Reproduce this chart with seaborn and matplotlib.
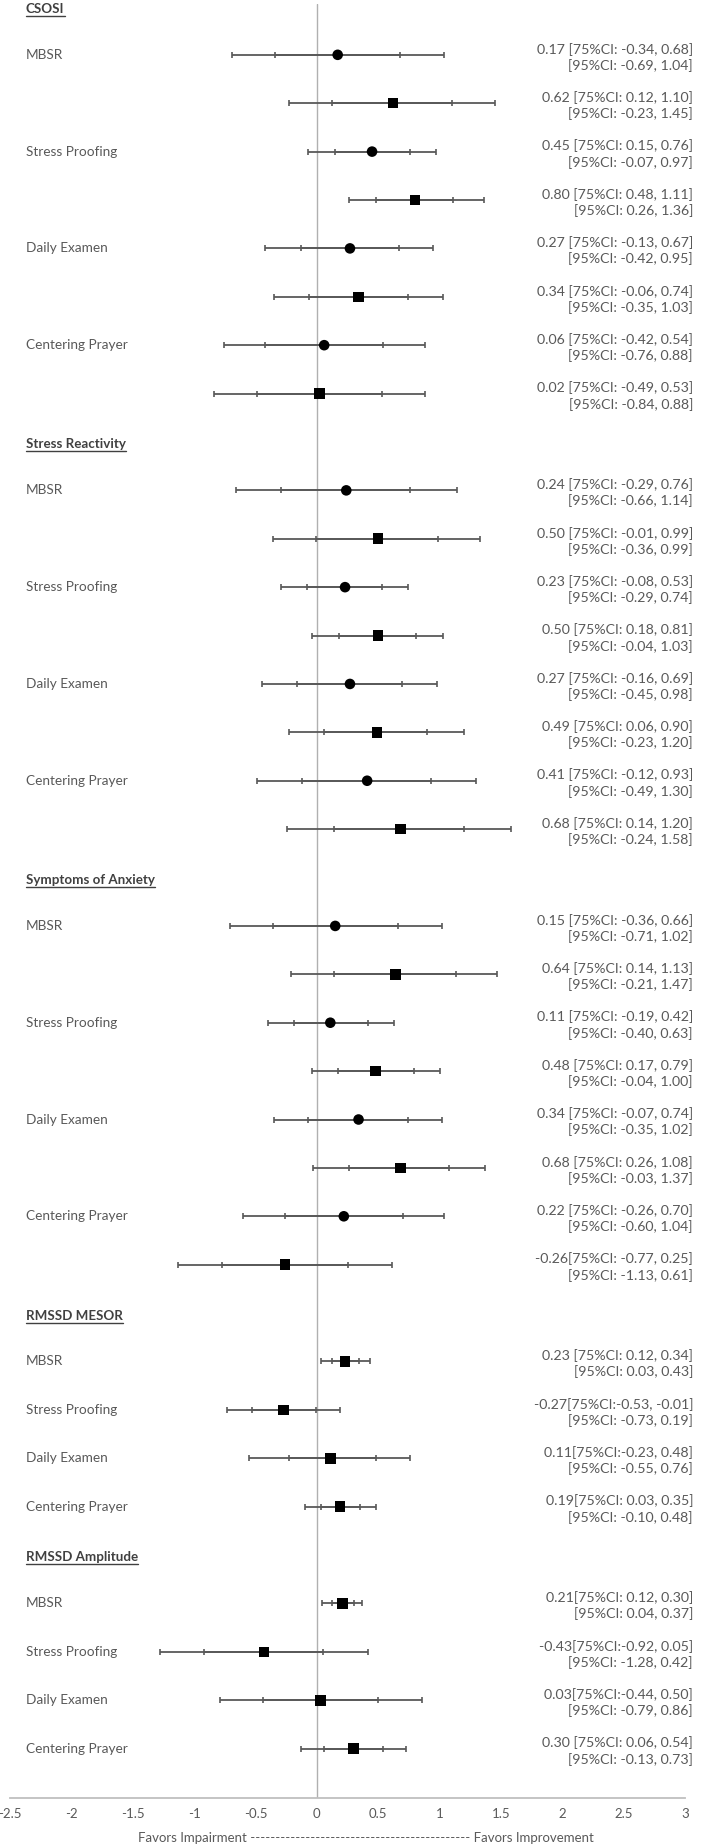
import matplotlib
matplotlib.use('Agg')
import matplotlib.pyplot as plt
import matplotlib.transforms as mtransforms
import numpy as np
import pandas as pd
import seaborn as sns

# Outcomes and arms
sections = ['CSOSI', 'Stress Reactivity', 'Symptoms of Anxiety', 'RMSSD MESOR', 'RMSSD Amplitude']
arms = ['MBSR', 'Stress Proofing', 'Daily Examen', 'Centering Prayer']
rows_per_arm = [2, 2, 2, 1, 1]  # circle + square rows for the first three outcomes

# Effect sizes with 75% and 95% CIs (top to bottom)
est = [0.17, 0.62, 0.45, 0.80, 0.27, 0.34, 0.06, 0.02,
       0.24, 0.50, 0.23, 0.50, 0.27, 0.49, 0.41, 0.68,
       0.15, 0.64, 0.11, 0.48, 0.34, 0.68, 0.22, -0.26,
       0.23, -0.27, 0.11, 0.19,
       0.21, -0.43, 0.03, 0.30]
lo75 = [-0.34, 0.12, 0.15, 0.48, -0.13, -0.06, -0.42, -0.49,
        -0.29, -0.01, -0.08, 0.18, -0.16, 0.06, -0.12, 0.14,
        -0.36, 0.14, -0.19, 0.17, -0.07, 0.26, -0.26, -0.77,
        0.12, -0.53, -0.23, 0.03,
        0.12, -0.92, -0.44, 0.06]
hi75 = [0.68, 1.10, 0.76, 1.11, 0.67, 0.74, 0.54, 0.53,
        0.76, 0.99, 0.53, 0.81, 0.69, 0.90, 0.93, 1.20,
        0.66, 1.13, 0.42, 0.79, 0.74, 1.08, 0.70, 0.25,
        0.34, -0.01, 0.48, 0.35,
        0.30, 0.05, 0.50, 0.54]
lo95 = [-0.69, -0.23, -0.07, 0.26, -0.42, -0.35, -0.76, -0.84,
        -0.66, -0.36, -0.29, -0.04, -0.45, -0.23, -0.49, -0.24,
        -0.71, -0.21, -0.40, -0.04, -0.35, -0.03, -0.60, -1.13,
        0.03, -0.73, -0.55, -0.10,
        0.04, -1.28, -0.79, -0.13]
hi95 = [1.04, 1.45, 0.97, 1.36, 0.95, 1.03, 0.88, 0.88,
        1.14, 1.33, 0.74, 1.03, 0.98, 1.20, 1.30, 1.58,
        1.02, 1.47, 0.63, 1.00, 1.02, 1.37, 1.04, 0.61,
        0.43, 0.19, 0.76, 0.48,
        0.37, 0.42, 0.86, 0.73]

label_top = ['0.17 [75%CI: -0.34, 0.68]', '0.62 [75%CI: 0.12, 1.10]', '0.45 [75%CI: 0.15, 0.76]',
             '0.80 [75%CI: 0.48, 1.11]', '0.27 [75%CI: -0.13, 0.67]', '0.34 [75%CI: -0.06, 0.74]',
             '0.06 [75%CI: -0.42, 0.54]', '0.02 [75%CI: -0.49, 0.53]',
             '0.24 [75%CI: -0.29, 0.76]', '0.50 [75%CI: -0.01, 0.99]', '0.23 [75%CI: -0.08, 0.53]',
             '0.50 [75%CI: 0.18, 0.81]', '0.27 [75%CI: -0.16, 0.69]', '0.49 [75%CI: 0.06, 0.90]',
             '0.41 [75%CI: -0.12, 0.93]', '0.68 [75%CI: 0.14, 1.20]',
             '0.15 [75%CI: -0.36, 0.66]', '0.64 [75%CI: 0.14, 1.13]', '0.11 [75%CI: -0.19, 0.42]',
             '0.48 [75%CI: 0.17, 0.79]', '0.34 [75%CI: -0.07, 0.74]', '0.68 [75%CI: 0.26, 1.08]',
             '0.22 [75%CI: -0.26, 0.70]', '-0.26[75%CI: -0.77, 0.25]',
             '0.23 [75%CI: 0.12, 0.34]', '-0.27[75%CI:-0.53, -0.01]', '0.11[75%CI:-0.23, 0.48]',
             '0.19[75%CI: 0.03, 0.35]',
             '0.21[75%CI: 0.12, 0.30]', '-0.43[75%CI:-0.92, 0.05]', '0.03[75%CI:-0.44, 0.50]',
             '0.30 [75%CI: 0.06, 0.54]']
label_bottom = ['[95%CI: -0.69, 1.04]', '[95%CI: -0.23, 1.45]', '[95%CI: -0.07, 0.97]',
                '[95%CI: 0.26, 1.36]', '[95%CI: -0.42, 0.95]', '[95%CI: -0.35, 1.03]',
                '[95%CI: -0.76, 0.88]', '[95%CI: -0.84, 0.88]',
                '[95%CI: -0.66, 1.14]', '[95%CI: -0.36, 0.99]', '[95%CI: -0.29, 0.74]',
                '[95%CI: -0.04, 1.03]', '[95%CI: -0.45, 0.98]', '[95%CI: -0.23, 1.20]',
                '[95%CI: -0.49, 1.30]', '[95%CI: -0.24, 1.58]',
                '[95%CI: -0.71, 1.02]', '[95%CI: -0.21, 1.47]', '[95%CI: -0.40, 0.63]',
                '[95%CI: -0.04, 1.00]', '[95%CI: -0.35, 1.02]', '[95%CI: -0.03, 1.37]',
                '[95%CI: -0.60, 1.04]', '[95%CI: -1.13, 0.61]',
                '[95%CI: 0.03, 0.43]', '[95%CI: -0.73, 0.19]', '[95%CI: -0.55, 0.76]',
                '[95%CI: -0.10, 0.48]',
                '[95%CI: 0.04, 0.37]', '[95%CI: -1.28, 0.42]', '[95%CI: -0.79, 0.86]',
                '[95%CI: -0.13, 0.73]']

xticks = [-2.5, -2, -1.5, -1, -0.5, 0, 0.5, 1, 1.5, 2, 2.5, 3]
xlabel = 'Favors Impairment ' + '-' * 44 + ' Favors Improvement'

# build the row table
recs = []
headers = []
pos = 0
for sec, n in zip(sections, rows_per_arm):
    headers.append((sec, pos))
    pos += 1
    for arm in arms:
        for k in range(n):
            recs.append({'section': sec, 'arm': arm if k == 0 else '',
                         'shape': 'square' if k == n - 1 else 'circle', 'row': pos})
            pos += 1
df = pd.DataFrame(recs)
df['est'] = est
df['lo75'], df['hi75'] = lo75, hi75
df['lo95'], df['hi95'] = lo95, hi95
df['top'], df['bottom'] = label_top, label_bottom

sns.set_theme(style='white')
plt.rcParams['font.family'] = ['Lato', 'DejaVu Sans']

W, H = 708, 1847
fig = plt.figure(figsize=(W / 100, H / 100), dpi=100)
ax = fig.add_axes([10 / W, 49 / H, 675 / W, 1794 / H])

grey = '#595959'
ax.axvline(0, color='#b0b0b0', lw=1, zorder=1)

for lo, hi in [('lo95', 'hi95'), ('lo75', 'hi75')]:
    ax.errorbar(df['est'], df['row'], xerr=[df['est'] - df[lo], df[hi] - df['est']],
                fmt='none', ecolor=grey, elinewidth=1.3, capsize=2.3, capthick=1.2, zorder=2)

sns.scatterplot(data=df, x='est', y='row', style='shape', markers={'circle': 'o', 'square': 's'},
                color='black', s=58, linewidth=0, legend=False, ax=ax, zorder=3)

ax.set_xlim(-2.5, 3)
ax.set_ylim(37.02, -0.05)
ax.set_xticks(xticks)
ax.set_xticklabels(['{:g}'.format(t) for t in xticks])
ax.set_yticks([])
ax.set_xlabel('')
ax.set_ylabel('')
ax.tick_params(axis='x', length=0, pad=7, labelsize=9.5, labelcolor=grey)
for s in ['top', 'left', 'right']:
    ax.spines[s].set_visible(False)
ax.spines['bottom'].set_color('#bfbfbf')
ax.spines['bottom'].set_linewidth(1.3)

tr = mtransforms.blended_transform_factory(fig.transFigure, ax.transData)
for _, r in df.iterrows():
    if r['arm']:
        ax.text(26 / W, r['row'], r['arm'], transform=tr, ha='left', va='center',
                fontsize=9.8, color=grey)
    ax.text(693 / W, r['row'] + 0.05, r['top'] + '\n' + r['bottom'], transform=tr,
            ha='right', va='center', multialignment='right', fontsize=10.2, color=grey,
            linespacing=1.3)

head_texts = []
for sec, p in headers:
    t = ax.text(26 / W, p + 0.05, sec, transform=tr, ha='left', va='center', fontsize=9.6,
                fontweight='bold', color='#404040')
    head_texts.append(t)

fig.text(366 / W, 1 - 1838 / H, xlabel, ha='center', va='center', fontsize=9.5, color=grey)

# underline the section headers
fig.canvas.draw()
renderer = fig.canvas.get_renderer()
for t in head_texts:
    bb = t.get_window_extent(renderer)
    y = bb.y0 - 1
    fig.add_artist(plt.Line2D([bb.x0 / W, bb.x1 / W], [y / H, y / H], color='#404040', lw=1))

fig.savefig('out.png', dpi=100)
